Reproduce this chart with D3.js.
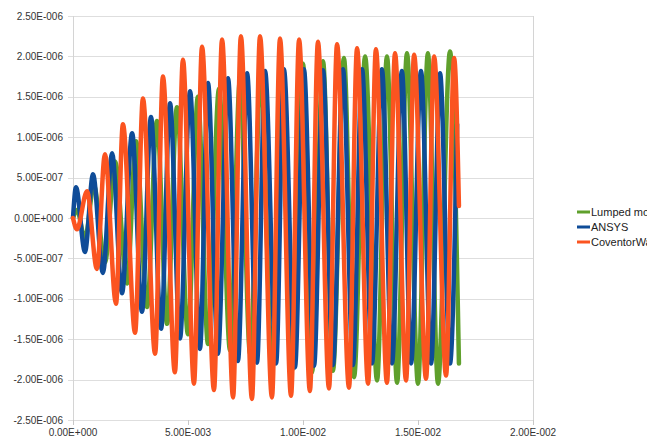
<!DOCTYPE html>
<html>
<head>
<meta charset="utf-8">
<script src="https://d3js.org/d3.v7.min.js"></script>
<style>
    body { margin: 0; background: #fff; }
    text { font-family: "Liberation Sans", Arial, sans-serif; }
</style>
</head>
<body>
<div id="chart"></div>
<script>
// Series names, in legend order
const seriesNames = ["Lumped model", "ANSYS", "CoventorWare"];

// Time of each turning point (x 1E-003 s) and displacement there (x 1E-006)
const lumpedTime = [0, 0.17, 0.52, 0.91, 1.39, 1.83, 2.35, 2.74, 3.22, 3.65, 4.09, 4.52, 5.00, 5.43, 5.87, 6.35, 6.83, 7.26, 7.70, 8.17, 8.65, 9.09, 9.52, 10.00, 10.39, 10.87, 11.30, 11.78, 12.22, 12.70, 13.22, 13.65, 14.09, 14.52, 15.00, 15.43, 15.87, 16.39, 16.78];
const lumpedValue = [0, 0.10, -0.25, 0.40, -0.55, 0.70, -0.81, 0.95, -1.10, 1.20, -1.31, 1.37, -1.44, 1.50, -1.56, 1.60, -1.64, 1.71, -1.68, 1.77, -1.77, 1.85, -1.89, 1.91, -1.91, 1.94, -1.89, 1.98, -1.97, 2.00, -2.01, 2.00, -2.04, 2.04, -2.05, 2.04, -2.05, 2.06, -1.80];

const ansysTime = [0, 0.13, 0.52, 0.87, 1.30, 1.70, 2.13, 2.57, 3.00, 3.39, 3.83, 4.22, 4.65, 5.09, 5.52, 5.87, 6.30, 6.74, 7.17, 7.57, 8.00, 8.35, 8.83, 9.17, 9.65, 10.04, 10.48, 10.87, 11.30, 11.74, 12.17, 12.57, 13.00, 13.43, 13.87, 14.30, 14.70, 15.13, 15.57, 15.96, 16.39, 16.70];
const ansysValue = [0, 0.38, -0.42, 0.54, -0.68, 0.80, -0.93, 1.05, -1.16, 1.25, -1.37, 1.42, -1.49, 1.57, -1.62, 1.67, -1.68, 1.73, -1.77, 1.79, -1.79, 1.82, -1.80, 1.84, -1.85, 1.84, -1.83, 1.83, -1.82, 1.84, -1.82, 1.84, -1.80, 1.84, -1.80, 1.82, -1.80, 1.82, -1.80, 1.79, -1.80, 1.16];

const coventorTime = [0, 0.17, 0.61, 1.04, 1.39, 1.87, 2.17, 2.70, 3.04, 3.57, 3.91, 4.43, 4.78, 5.26, 5.61, 6.13, 6.48, 6.96, 7.30, 7.78, 8.13, 8.65, 9.00, 9.48, 9.83, 10.30, 10.65, 11.13, 11.48, 12.00, 12.35, 12.83, 13.17, 13.65, 14.00, 14.48, 14.83, 15.35, 15.70, 16.22, 16.57, 16.78];
const coventorValue = [0, -0.14, 0.33, -0.63, 0.79, -1.06, 1.16, -1.42, 1.48, -1.68, 1.75, -1.91, 1.96, -2.05, 2.12, -2.13, 2.21, -2.22, 2.25, -2.24, 2.25, -2.22, 2.22, -2.20, 2.21, -2.14, 2.18, -2.11, 2.15, -2.10, 2.10, -2.05, 2.09, -2.04, 2.04, -2.01, 2.02, -1.99, 2.00, -1.95, 1.98, 0.15];

// Axis ticks
const xTicks = [0, 5, 10, 15, 20];
const yTicks = [2.5, 2.0, 1.5, 1.0, 0.5, 0, -0.5, -1.0, -1.5, -2.0, -2.5];

const colors = ["#5fa02c", "#0f4c98", "#fb5420"];

const W = 647, H = 440;
const margin = { top: 16, right: 114, bottom: 20, left: 73 };

// Spreadsheet style number: 5.00E-003
function sci(v) {
    if (Math.abs(v) < 1e-15) return "0.00E+000";
    let e = Math.floor(Math.log10(Math.abs(v)));
    let m = v / Math.pow(10, e);
    if (Math.abs(m) >= 9.995) { m /= 10; e++; }
    return m.toFixed(2) + "E" + (e < 0 ? "-" : "+") + String(Math.abs(e)).padStart(3, "0");
}

const svg = d3.select("#chart").append("svg")
    .attr("width", W)
    .attr("height", H);

const x = d3.scaleLinear().domain([0, 20]).range([margin.left, W - margin.right]);
const y = d3.scaleLinear().domain([-2.5, 2.5]).range([H - margin.bottom, margin.top]);

// Grid lines
svg.append("g")
    .selectAll("line")
    .data(yTicks)
    .enter().append("line")
    .attr("x1", x(0) - 5)
    .attr("x2", x(20))
    .attr("y1", d => Math.round(y(d)) + 0.5)
    .attr("y2", d => Math.round(y(d)) + 0.5)
    .attr("stroke", "#dedede")
    .attr("stroke-width", 1);

// Left and right frame lines
[0, 20].forEach(v => {
    svg.append("line")
        .attr("x1", Math.round(x(v)) + 0.5)
        .attr("x2", Math.round(x(v)) + 0.5)
        .attr("y1", y(2.5))
        .attr("y2", y(-2.5) + 5)
        .attr("stroke", "#d4d4d4");
});

// X ticks and labels
svg.append("g")
    .selectAll("line")
    .data(xTicks)
    .enter().append("line")
    .attr("x1", d => Math.round(x(d)) + 0.5)
    .attr("x2", d => Math.round(x(d)) + 0.5)
    .attr("y1", y(-2.5))
    .attr("y2", y(-2.5) + 5)
    .attr("stroke", "#c8c8c8");

svg.append("g")
    .selectAll("text")
    .data(xTicks)
    .enter().append("text")
    .attr("x", d => x(d))
    .attr("y", y(-2.5) + 16)
    .attr("text-anchor", "middle")
    .attr("font-size", "10px")
    .attr("fill", "#333")
    .text(d => sci(d * 1e-3));

// Y labels
svg.append("g")
    .selectAll("text")
    .data(yTicks)
    .enter().append("text")
    .attr("x", x(0) - 10)
    .attr("y", d => y(d))
    .attr("dy", "0.35em")
    .attr("text-anchor", "end")
    .attr("font-size", "10px")
    .attr("fill", "#333")
    .text(d => sci(d * 1e-6));

// Build the series from the turning point arrays
const series = [
    { name: seriesNames[0], color: colors[0], pts: d3.zip(lumpedTime, lumpedValue) },
    { name: seriesNames[1], color: colors[1], pts: d3.zip(ansysTime, ansysValue) },
    { name: seriesNames[2], color: colors[2], pts: d3.zip(coventorTime, coventorValue) }
];

const line = d3.line()
    .x(d => x(d[0]))
    .y(d => y(d[1]))
    .curve(d3.curveMonotoneX);

svg.append("g")
    .selectAll("path")
    .data(series)
    .enter().append("path")
    .attr("d", d => line(d.pts))
    .attr("fill", "none")
    .attr("stroke", d => d.color)
    .attr("stroke-width", 4.5)
    .attr("stroke-linejoin", "round")
    .attr("stroke-linecap", "round");

// Legend, clipped by the right edge like the original
const legend = svg.append("g")
    .selectAll("g")
    .data(series)
    .enter().append("g")
    .attr("transform", (d, i) => `translate(577,${212 + i * 15})`);

legend.append("line")
    .attr("x1", 0)
    .attr("x2", 13)
    .attr("stroke", d => d.color)
    .attr("stroke-width", 3);

legend.append("text")
    .attr("x", 14)
    .attr("dy", "0.35em")
    .attr("font-size", "11px")
    .attr("fill", "#222")
    .text(d => d.name);
</script>
</body>
</html>
